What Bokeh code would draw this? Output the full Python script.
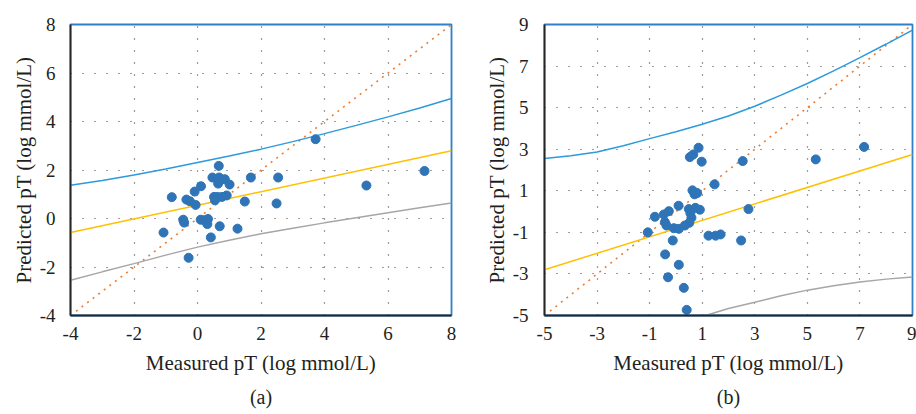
from bokeh.plotting import figure
from bokeh.layouts import row
from bokeh.models import FixedTicker, Title, PrintfTickFormatter
from bokeh.embed import file_html
from bokeh.resources import INLINE

# ---------------- panel (a) data ----------------
a_meas = [0.67, 0.47, 0.68, 0.86, 1.01, 0.65, 1.68, 2.54, 0.11, -0.09, -0.81, -0.35,
          -0.24, -0.06, 0.52, 0.63, 0.77, 0.92, 0.55, 1.49, 2.49, -0.45, -0.42, 0.10,
          0.21, 0.33, 0.31, 0.70, 1.26, -1.07, 0.42, -0.28, 3.72, 7.15, 5.32]
a_pred = [2.17, 1.69, 1.69, 1.62, 1.40, 1.44, 1.69, 1.69, 1.33, 1.11, 0.88, 0.78,
          0.71, 0.56, 0.89, 0.89, 0.89, 0.95, 0.75, 0.70, 0.62, -0.05, -0.17, -0.05,
          -0.07, -0.02, -0.23, -0.32, -0.42, -0.58, -0.78, -1.62, 3.27, 1.96, 1.36]
a_band_x = [-4, -3, -2, -1, 0, 1, 2, 3, 4, 5, 6, 7, 8]
a_upper = [1.37, 1.57, 1.79, 2.04, 2.31, 2.58, 2.86, 3.17, 3.50, 3.84, 4.19, 4.56, 4.95]
a_lower = [-2.55, -2.20, -1.86, -1.51, -1.18, -0.90, -0.63, -0.40, -0.18, 0.03, 0.24, 0.44, 0.64]
a_fit_x = [-4, 8]
a_fit_y = [-0.58, 2.79]
a_ident = [-4, 8]
a_ticks = [-4, -2, 0, 2, 4, 6, 8]

# ---------------- panel (b) data ----------------
b_meas = [0.86, 0.53, 0.66, 0.98, 2.54, 1.47, 0.63, 0.71, 0.81, 0.10, 0.49, 0.74,
          0.91, 0.55, 0.59, 0.51, 0.34, -0.27, -0.46, -0.80, -0.42, -0.36, -0.08, 0.11,
          -1.07, -0.12, 2.76, 1.24, 1.51, 1.70, 2.48, -0.41, 0.11, -0.30, 0.30, 0.41,
          5.32, 7.16]
b_pred = [3.07, 2.62, 2.75, 2.40, 2.43, 1.31, 1.02, 0.83, 0.89, 0.28, 0.12, 0.18,
          0.09, -0.07, -0.30, -0.54, -0.67, 0.02, -0.14, -0.25, -0.51, -0.67, -0.80, -0.83,
          -1.00, -1.39, 0.12, -1.16, -1.16, -1.10, -1.39, -2.06, -2.56, -3.16, -3.67, -4.73,
          2.51, 3.11]
b_band_x = [-5, -4, -3, -2, -1, 0, 1, 2, 3, 4, 5, 6, 7, 8, 9]
b_upper = [2.55, 2.69, 2.87, 3.17, 3.51, 3.84, 4.20, 4.60, 5.07, 5.60, 6.16, 6.77, 7.41, 8.06, 8.73]
b_low_x = [1, 2, 3, 4, 5, 6, 7, 8, 9]
b_lower = [-5.05, -4.66, -4.36, -4.05, -3.78, -3.57, -3.39, -3.25, -3.15]
b_fit_x = [-5, 9]
b_fit_y = [-2.80, 2.75]
b_ident = [-5, 9]
b_ticks = [-5, -3, -1, 1, 3, 5, 7, 9]

FONT = "Liberation Serif"
TXT = "#231f20"
PT = "#2e74b6"
UP = "#2b9bdb"
YEL = "#ffc000"
GRY = "#a6a6a6"
ORG = "#ed7d31"
FRAME = "#2f80c8"


def panel(xs, ys, bx, up, lx, lo, fx, fy, ident, ticks, width, left, right,
          ytick_standoff, caption):
    lo_t, hi_t = ticks[0], ticks[-1]
    p = figure(width=width, height=414, x_range=(lo_t, hi_t), y_range=(lo_t, hi_t),
               output_backend="svg", toolbar_location=None,
               min_border_left=left, min_border_right=right,
               min_border_top=24, min_border_bottom=99)
    p.outline_line_color = FRAME
    p.outline_line_width = 1.8
    p.background_fill_color = "white"
    p.border_fill_color = "white"

    inner = ticks[1:-1]
    for ax in (p.xaxis[0], p.yaxis[0]):
        ax.ticker = FixedTicker(ticks=ticks)
        ax.formatter = PrintfTickFormatter(format="%d")
        ax.major_tick_line_color = None
        ax.minor_tick_line_color = None
        ax.axis_line_color = "#262626"
        ax.axis_line_width = 1.8
        ax.major_label_text_font = FONT
        ax.major_label_text_font_size = "19px"
        ax.major_label_text_color = TXT
        ax.axis_label_text_font = FONT
        ax.axis_label_text_font_size = "21px"
        ax.axis_label_text_font_style = "normal"
        ax.axis_label_text_color = TXT
    p.xaxis.axis_label = "Measured pT (log mmol/L)"
    p.yaxis.axis_label = "Predicted pT (log mmol/L)"
    p.xaxis.major_label_standoff = 5
    p.yaxis.major_label_standoff = ytick_standoff
    p.xaxis.axis_label_standoff = 8
    p.yaxis.axis_label_standoff = 1

    p.xgrid.ticker = FixedTicker(ticks=inner)
    p.ygrid.ticker = FixedTicker(ticks=inner)
    p.grid.grid_line_color = "#3a3a3a"
    p.grid.grid_line_dash = "1 11"
    p.grid.grid_line_width = 1.2

    p.line(ident, ident, line_color=ORG, line_width=1.6, line_dash="2 5")
    p.line(bx, up, line_color=UP, line_width=1.5)
    p.line(fx, fy, line_color=YEL, line_width=1.5)
    p.line(lx, lo, line_color=GRY, line_width=1.5)
    p.scatter(xs, ys, size=9, fill_color=PT, line_color=PT)

    t = Title(text=caption, align="center", text_font=FONT, text_font_size="20px",
              text_font_style="normal", text_color=TXT, standoff=13)
    p.add_layout(t, "below")
    return p


pa = panel(a_meas, a_pred, a_band_x, a_upper, a_band_x, a_lower, a_fit_x, a_fit_y,
           a_ident, a_ticks, 470, 70, 19, 9, "(a)")
pb = panel(b_meas, b_pred, b_band_x, b_upper, b_low_x, b_lower, b_fit_x, b_fit_y,
           b_ident, b_ticks, 446, 74, 4, 10, "(b)")

layout = row(pa, pb)
open("out.html", "w").write(file_html(layout, INLINE))
